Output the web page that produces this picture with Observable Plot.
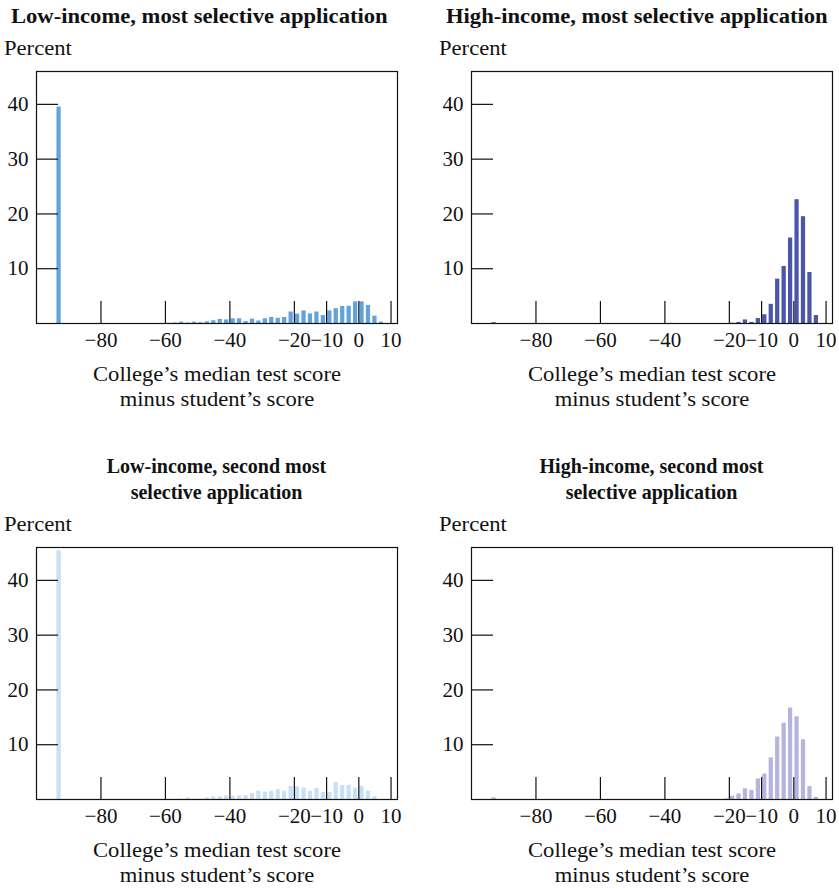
<!DOCTYPE html>
<html>
<head>
<meta charset="utf-8">
<script src="https://cdn.jsdelivr.net/npm/d3@7"></script>
<script src="https://cdn.jsdelivr.net/npm/@observablehq/plot@0.6"></script>
<style>
  html, body { margin: 0; padding: 0; background: #fff; }
  #root { position: relative; width: 839px; height: 889px; overflow: hidden; font-family: "Liberation Serif", "Times New Roman", serif; color: #111; }
  .t { position: absolute; white-space: nowrap; font-size: 20px; line-height: 26px; transform: scaleX(1.13); transform-origin: left center; }
  .b { font-weight: bold; }
  .c { text-align: center; transform-origin: center center; }
  .n { transform: none; }
  .plot { position: absolute; overflow: visible; }
</style>
</head>
<body>
<div id="root"></div>
<script>
// Bin centres (2-point bins); -93 is the far-left bar
const bins = [-93, -59, -57, -55, -53, -51, -49, -47, -45, -43, -41, -39, -37, -35, -33, -31, -29, -27, -25, -23, -21, -19, -17, -15, -13, -11, -9, -7, -5, -3, -1, 1, 3, 5, 7];

const lowMost = [39.5, 0.05, 0.1, 0.25, 0.1, 0.25, 0.15, 0.3, 0.5, 0.75, 0.65, 0.85, 0.85, 0.35, 0.8, 0.45, 0.85, 1.1, 0.95, 1.1, 2.1, 1.7, 2.3, 1.75, 2.1, 1.45, 2.3, 2.7, 3.1, 3.15, 3.95, 3.95, 3.3, 1.35, 0.25];
const highMost = [0.15, 0, 0, 0, 0, 0, 0, 0, 0, 0, 0, 0, 0, 0, 0, 0, 0, 0, 0, 0, 0, 0.05, 0.2, 0.65, 0.2, 0.9, 1.6, 3.5, 8.1, 10.4, 15.6, 22.6, 19.5, 9.3, 1.45];
const lowSecond = [45.4, 0, 0.05, 0.1, 0.3, 0.05, 0.05, 0.3, 0.5, 0.5, 0.65, 0.55, 0.65, 0.7, 1.1, 1.5, 1.35, 1.5, 1.8, 1.5, 2.4, 2.3, 2.1, 1.5, 2.0, 1.3, 1.3, 3.1, 2.55, 2.6, 2.1, 2.4, 1.5, 0.5, 0];
const highSecond = [0.3, 0, 0, 0, 0, 0, 0, 0, 0, 0, 0, 0, 0, 0, 0, 0, 0, 0, 0, 0, 0.1, 0.6, 1.0, 1.95, 1.65, 3.75, 4.65, 7.6, 11.4, 13.9, 16.7, 15.1, 10.9, 2.35, 0.4];

const xTicks = [-80, -60, -40, -20, -10, 0, 10];
const yTicks = [10, 20, 30, 40];
const xDomain = [-100, 12];
const yDomain = [0, 46];
const binWidth = 2;

const panels = [
  {title: ["Low-income, most selective application"], values: lowMost, color: "#62a3dc", left: 0, top: 0, centered: false},
  {title: ["High-income, most selective application"], values: highMost, color: "#4b55a9", left: 435, top: 0, centered: false},
  {title: ["Low-income, second most", "selective application"], values: lowSecond, color: "#c8e0f5", left: 0, top: 476, centered: true},
  {title: ["High-income, second most", "selective application"], values: highSecond, color: "#b6b4de", left: 435, top: 476, centered: true}
];

const W = 404, mL = 36, mR = 7, mT = 10, mB = 30, plotH = 252;
const root = document.getElementById("root");

function addText(txt, cls, left, top, width) {
  const d = document.createElement("div");
  d.className = "t " + cls;
  d.textContent = txt;
  d.style.left = left + "px";
  d.style.top = top + "px";
  if (width != null) d.style.width = width + "px";
  root.appendChild(d);
}

for (const p of panels) {
  const frameCenter = p.left + mL + (W - mL - mR) / 2;
  if (p.centered) {
    p.title.forEach((line, i) => addText(line, "b c n", frameCenter - 200, p.top - 23 + i * 26, 400));
  } else {
    addText(p.title[0], "b", p.left + 11, p.top + 3);
  }
  addText("Percent", "", p.left + 4, p.top + 35);

  const data = bins.map((b, i) => ({x1: b - binWidth / 2, x2: b + binWidth / 2, y: p.values[i]}));

  const chart = Plot.plot({
    width: W,
    height: mT + plotH + mB,
    marginLeft: mL, marginRight: mR, marginTop: mT, marginBottom: mB,
    style: {fontFamily: "Liberation Serif, serif", fontSize: "21px", color: "#111", background: "transparent", overflow: "visible"},
    x: {domain: xDomain, label: null},
    y: {domain: yDomain, label: null},
    marks: [
      Plot.rectY(data, {x1: "x1", x2: "x2", y: "y", fill: p.color, insetLeft: 1.1, insetRight: 1.1}),
      Plot.tickY(yTicks, {y: d => d, stroke: "#111", strokeWidth: 1.2, insetRight: (W - mL - mR) - 22}),
      Plot.tickX(xTicks, {x: d => d, stroke: "#111", strokeWidth: 1.2, insetTop: plotH - 22}),
      Plot.axisY({ticks: yTicks, tickSize: 0, tickPadding: 8, label: null}),
      Plot.axisX({ticks: xTicks, tickSize: 0, tickPadding: 9, label: null}),
      Plot.frame({stroke: "#111", strokeWidth: 1.2})
    ]
  });
  chart.classList.add("plot");
  chart.style.left = p.left + "px";
  chart.style.top = (p.top + 61) + "px";
  root.appendChild(chart);

  addText("College’s median test score", "c", frameCenter - 200, p.top + 361, 400);
  addText("minus student’s score", "c", frameCenter - 200, p.top + 386, 400);
}
</script>
</body>
</html>
